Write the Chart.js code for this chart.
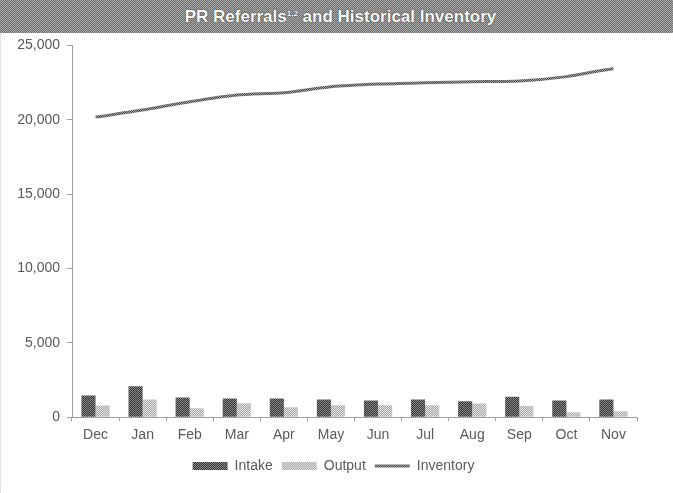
<!DOCTYPE html>
<html>
<head>
<meta charset="utf-8">
<script src="https://cdn.jsdelivr.net/npm/chart.js@4"></script>
<style>
  html, body { margin: 0; padding: 0; background: #fff; }
  #wrap { width: 673px; height: 493px; position: relative; overflow: hidden; }
  #title {
    height: 33px; display: flex; align-items: center; justify-content: center;
    padding-left: 8px; box-sizing: border-box;
    font: bold 17px "Liberation Sans", Arial, sans-serif; color: #fff;
    text-shadow: 0 0 1px #333, 0 0 1px #333;
    background-color: #8c8c8c;
    background-image: repeating-conic-gradient(#6e6e6e 0% 25%, #a8a8a8 0% 50%);
    background-size: 2px 2px;
  }
  #title sup { font-size: 8px; position: relative; top: -6px; line-height: 0; vertical-align: baseline; }
  #line { position: absolute; left: 0; top: 33px; height: 460px; border-left: 1px dotted #ccc; }
  #box { position: absolute; left: 0; top: 30px; width: 673px; height: 463px; }
</style>
</head>
<body>
<div id="wrap">
  <div id="title"><span>PR Referrals<sup>1,2</sup> and Historical Inventory</span></div>
  <div id="line"></div>
  <div id="box"><canvas id="chart" width="673" height="463"></canvas></div>
</div>
<script>
const months = ['Dec','Jan','Feb','Mar','Apr','May','Jun','Jul','Aug','Sep','Oct','Nov']
const intake = [1460, 2080, 1320, 1250, 1250, 1190, 1120, 1190, 1080, 1370, 1120, 1190]
const output = [790, 1190, 600, 940, 670, 800, 800, 800, 920, 760, 340, 400]
const inventory = [20180, 20650, 21210, 21660, 21820, 22220, 22400, 22490, 22560, 22600, 22900, 23450]
const yTicks = [0, 5000, 10000, 15000, 20000, 25000]

// little dithered fills like the original print
function dither(a, b) {
  const c = document.createElement('canvas')
  c.width = 2; c.height = 2
  const g = c.getContext('2d')
  g.fillStyle = a; g.fillRect(0, 0, 2, 2)
  g.fillStyle = b; g.fillRect(0, 0, 1, 1); g.fillRect(1, 1, 1, 1)
  return g.createPattern(c, 'repeat')
}
const canvasChart = document.getElementById('chart')
const intakeFill = dither('#333333', '#8a8a8a')
const outputFill = dither('#a8a8a8', '#e2e2e2')
const lineFill = dither('#4a4a4a', '#a0a0a0')

const font = { family: '"Liberation Sans", Arial, sans-serif', size: 14 }

// legend sits a bit right of the plot's centre in the original
const nudgeLegend = {
    id: 'nudgeLegend',
    afterLayout(chart) {
        chart.legend.left += 15
        chart.legend.right += 15
    }
}

const myChart = new Chart(canvasChart, {
    type: 'bar',
    data: {
        labels: months,
        datasets: [{
            label: 'Intake',
            data: intake,
            backgroundColor: intakeFill,
            pointStyle: 'rect',
            categoryPercentage: 0.6,
            barPercentage: 1
        }, {
            label: 'Output',
            data: output,
            backgroundColor: outputFill,
            pointStyle: 'rect',
            categoryPercentage: 0.6,
            barPercentage: 1
        }, {
            type: 'line',
            label: 'Inventory',
            data: inventory,
            borderColor: lineFill,
            backgroundColor: lineFill,
            borderWidth: 3,
            pointRadius: 0,
            pointStyle: 'line',
            tension: 0.25
        }]
    },
    options: {
        responsive: false,
        animation: false,
        layout: { padding: { top: 1, right: 36, bottom: 10, left: 0 } },
        plugins: {
            title: { display: false },
            tooltip: { enabled: false },
            legend: {
                position: 'bottom',
                labels: {
                    usePointStyle: true,
                    pointStyleWidth: 35,
                    boxHeight: 8,
                    padding: 9,
                    color: '#595959',
                    font: font
                }
            }
        },
        scales: {
            x: {
                grid: { display: true, drawOnChartArea: false, tickLength: 4, color: '#a0a0a0' },
                border: { color: '#a0a0a0' },
                ticks: { color: '#595959', font: font, padding: 6 }
            },
            y: {
                min: 0,
                max: 25000,
                afterBuildTicks: (scale) => { scale.ticks = yTicks.map(v => ({ value: v })) },
                afterFit: (scale) => { scale.width = 72 },
                grid: { display: true, drawOnChartArea: false, tickLength: 5, color: '#a0a0a0' },
                border: { color: '#a0a0a0' },
                ticks: {
                    color: '#595959',
                    font: font,
                    padding: 7,
                    callback: (v) => v.toLocaleString('en-US')
                }
            }
        }
    },
    plugins: [nudgeLegend]
})
</script>
</body>
</html>
